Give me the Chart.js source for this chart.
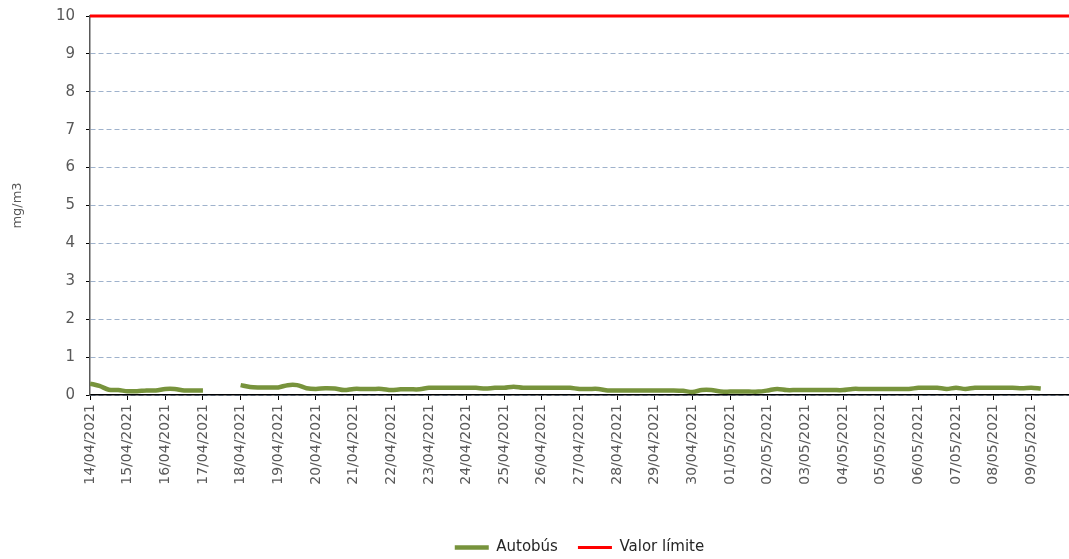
<!DOCTYPE html>
<html>
<head>
<meta charset="utf-8">
<script src="https://cdn.jsdelivr.net/npm/chart.js@4.4.1/dist/chart.umd.min.js"></script>
<style>
    html, body { margin: 0; padding: 0; overflow: hidden; background: #fff; }
    #wrap { position: relative; width: 1069px; height: 565px; }
</style>
</head>
<body>
<div id="wrap"><canvas id="grafico"></canvas></div>
<script>
// Días del eje X
const dias = [
    '14/04/2021', '15/04/2021', '16/04/2021', '17/04/2021', '18/04/2021', '19/04/2021',
    '20/04/2021', '21/04/2021', '22/04/2021', '23/04/2021', '24/04/2021', '25/04/2021',
    '26/04/2021', '27/04/2021', '28/04/2021', '29/04/2021', '30/04/2021', '01/05/2021',
    '02/05/2021', '03/05/2021', '04/05/2021', '05/05/2021', '06/05/2021', '07/05/2021',
    '08/05/2021', '09/05/2021'
];

// Autobús, un valor cada 6 horas (null = sin datos)
const autobus = [
    0.30, 0.24, 0.14, 0.13, 0.10, 0.10, 0.12, 0.12, 0.16, 0.16,
    0.12, 0.12, 0.12, null, null, null, 0.26, 0.21, 0.20, 0.20,
    0.20, 0.26, 0.26, 0.18, 0.16, 0.18, 0.17, 0.13, 0.16, 0.16,
    0.16, 0.16, 0.13, 0.15, 0.15, 0.15, 0.19, 0.19, 0.19, 0.19,
    0.19, 0.19, 0.17, 0.19, 0.19, 0.22, 0.19, 0.19, 0.19, 0.19,
    0.19, 0.19, 0.16, 0.16, 0.16, 0.12, 0.12, 0.12, 0.12, 0.12,
    0.12, 0.12, 0.12, 0.11, 0.08, 0.13, 0.13, 0.09, 0.09, 0.09,
    0.09, 0.09, 0.12, 0.16, 0.13, 0.13, 0.13, 0.13, 0.13, 0.13,
    0.13, 0.16, 0.16, 0.16, 0.16, 0.16, 0.16, 0.16, 0.19, 0.19,
    0.19, 0.16, 0.19, 0.16, 0.19, 0.19, 0.19, 0.19, 0.19, 0.18,
    0.19, 0.17
];
const puntosPorDia = 4;

// Valor límite
const valorLimite = 10;

const yTicks = { min: 0, max: 10, step: 1 };

const gris = '#595959';
const fuente = "'DejaVu Sans', sans-serif";

const datosAutobus = autobus.map((v, i) => ({ x: i / puntosPorDia, y: v }));
const datosLimite = [{ x: 0, y: valorLimite }, { x: dias.length, y: valorLimite }];

const ctx = document.getElementById('grafico');
new Chart(ctx, {
    type: 'line',
    data: {
        datasets: [
            {
                label: 'Autobús',
                data: datosAutobus,
                borderColor: '#77933c',
                backgroundColor: '#77933c',
                borderWidth: 4.5,
                pointRadius: 0,
                tension: 0.3,
                spanGaps: false
            },
            {
                label: 'Valor límite',
                data: datosLimite,
                borderColor: '#ff0000',
                backgroundColor: '#ff0000',
                borderWidth: 3,
                pointRadius: 0,
                clip: false
            }
        ]
    },
    options: {
        responsive: true,
        maintainAspectRatio: false,
        animation: false,
        layout: { padding: { left: 0, right: 0, top: 16, bottom: 0 } },
        scales: {
            x: {
                type: 'linear',
                min: 0,
                max: dias.length,
                afterFit: (scale) => {
                    scale.height = 125;
                    scale.paddingLeft = 0;
                    scale.paddingRight = 0;
                },
                ticks: {
                    stepSize: 1,
                    autoSkip: false,
                    maxRotation: 90,
                    minRotation: 90,
                    padding: 4,
                    color: gris,
                    font: { family: fuente, size: 14 },
                    callback: (v) => dias[v] || ''
                },
                grid: {
                    drawOnChartArea: false,
                    drawTicks: true,
                    tickLength: 5,
                    tickColor: '#000'
                },
                border: { color: '#000', width: 1.5 }
            },
            y: {
                min: yTicks.min,
                max: yTicks.max,
                afterFit: (scale) => {
                    scale.width = 90;
                    scale.paddingTop = 0;
                    scale.paddingBottom = 0;
                },
                ticks: {
                    stepSize: yTicks.step,
                    padding: 11,
                    color: gris,
                    font: { family: fuente, size: 15 }
                },
                grid: {
                    color: '#9fb2cc',
                    tickColor: '#000',
                    tickLength: 4,
                    tickBorderDash: []
                },
                border: { color: gris, width: 1.5, dash: [5, 3] },
                title: {
                    display: true,
                    text: 'mg/m3',
                    color: gris,
                    padding: { top: 10, bottom: 4 },
                    font: { family: fuente, size: 13 }
                }
            }
        },
        plugins: {
            legend: {
                position: 'bottom',
                fullSize: false,
                labels: {
                    usePointStyle: true,
                    pointStyle: 'line',
                    pointStyleWidth: 34,
                    padding: 20,
                    color: '#262626',
                    font: { family: fuente, size: 15 }
                }
            },
            tooltip: { enabled: false }
        }
    }
});
</script>
</body>
</html>
